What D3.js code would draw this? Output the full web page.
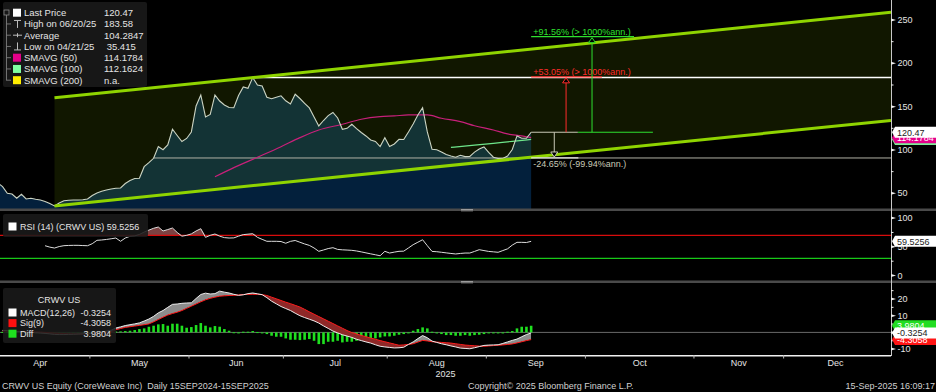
<!DOCTYPE html>
<html>
<head>
<meta charset="utf-8">
<script src="https://cdn.jsdelivr.net/npm/d3@7/dist/d3.min.js"></script>
<style>
  body { margin: 0; background: #000; overflow: hidden; }
  svg { display: block; }
  text { font-family: "Liberation Sans", Arial, sans-serif; }
</style>
</head>
<body>
<svg id="chart" width="936" height="392"></svg>
<script>
// trading-day index: 0 = 28 Mar 2025 (IPO), 116 = 15 Sep 2025
var firstDay = 3;
var closes = [61.9, 57.7, 50.0, 49.2, 44.3, 48.9, 43.5, 44.3, 43.1, 42.3,
  40.6, 38.3, 35.42, 38.8, 41.5, 42.0, 42.3, 42.3, 42.5, 43.5,
  47.5, 50.4, 52.3, 53.8, 55.0, 55.8, 56.2, 61.3, 64.8, 67.1,
  67.3, 80.7, 85.3, 90.4, 104.0, 100.3, 105.8, 123.9, 116.7, 109.8,
  113.3, 120.8, 150.8, 163.5, 138.1, 141.0, 163.5, 156.5, 151.9, 149.0,
  148.8, 162.9, 172.7, 171.2, 183.58, 175.0, 173.8, 160.8, 159.1, 160.8,
  162.5, 156.8, 153.1, 164.3, 159.4, 153.9, 148.5, 138.1, 127.7, 134.0,
  139.6, 143.3, 136.9, 123.9, 125.0, 129.7, 124.6, 120.2, 116.2, 111.5,
  109.8, 104.0, 114.2, 104.0, 106.9, 112.3, 112.1, 120.8, 130.0, 140.4,
  148.8, 120.8, 100.8, 100.2, 97.7, 94.7, 93.1, 91.7, 93.9, 92.3,
  92.5, 97.5, 101.2, 103.5, 97.3, 91.6, 90.2, 90.1, 93.1, 100.6,
  116.2, 113.5, 113.5, 120.47];

var sma50 = [[49, 69.0], [53, 79.6], [58, 91.6], [63, 103.8], [67, 114.2], [71, 123.1],
  [76, 129.7], [80, 135.5], [84, 138.5], [87, 139.3], [90, 140.4], [94, 140.4], [97, 136.6],
  [101, 132.7], [104, 128.0], [108, 123.1], [111, 118.5], [114, 116.2], [116, 114.18]];
var sma100 = [[99, 103.0], [104, 105.5], [108, 107.7], [112, 110.0], [116, 112.16]];

// trend channel (lower through the April low, upper parallel through the June high)
var channelDays = [15, 192.25];
var channelLow = [35.42, 134.1];
var channelHigh = [160.2, 258.9];

var highDay = 57, highValue = 183.58;
var supportDay = 36, supportValue = 90.77;
var lastDay = 116, lastPrice = 120.47;

var targetValues = [90.77, 184.38, 230.77];
var targetLabels = ["-24.65% (-99.94%ann.)", "+53.05% (> 1000%ann.)", "+91.56% (> 1000%ann.)"];
var targetColors = ["#c9c9b6", "#ff2b2b", "#2fe02f"];

var rsiStart = 13;
var rsi = [51.9, 49.5, 47.9, 50.5, 52.0, 52.4, 52.6, 52.6, 52.2, 51.9,
  55.4, 61.3, 61.9, 62.8, 64.0, 65.3, 59.6, 65.3, 68.3, 69.0,
  71.5, 75.7, 79.0, 82.2, 84.4, 77.5, 80.0, 82.7, 75.0, 68.5,
  70.0, 72.5, 77.5, 81.5, 66.5, 70.0, 72.3, 68.5, 66.0, 65.3,
  65.5, 68.5, 71.2, 72.0, 72.8, 66.5, 63.0, 59.6, 59.6, 59.6,
  59.2, 56.2, 59.5, 61.0, 58.0, 55.0, 52.5, 48.0, 42.2, 44.5,
  47.0, 48.5, 45.5, 44.8, 44.4, 43.9, 42.8, 41.2, 39.5, 37.8,
  36.2, 34.5, 42.2, 39.2, 40.8, 42.2, 42.5, 48.0, 53.7, 58.0,
  62.3, 52.0, 42.0, 41.5, 40.5, 39.5, 38.5, 37.6, 38.5, 39.2,
  39.2, 42.0, 45.0, 43.5, 42.0, 41.3, 40.5, 43.5, 46.5, 53.0,
  57.8, 57.8, 57.5, 59.53];

var macdStart = 4;
var macd = [1.2, 1.0, 0.8, 0.5, 0.4, 0.2, 0.0, -0.2, -0.4, -0.6, -0.9, -1.2, -1.3, -1.3, -1.2, -1.1, -1.0, -0.9, -0.8, -0.5, -0.1, 0.3, 0.8, 1.3,
  2.6, 3.3, 4.1, 4.6, 5.1, 5.7, 6.8, 8.0, 9.6, 11.7, 13.1, 15.0, 16.8, 17.0, 17.4, 17.6, 17.7,
  20.3, 22.7, 23.5, 23.0, 23.2, 24.7, 24.1, 23.6, 22.8, 22.2, 22.5, 23.2, 23.6, 23.1, 22.6,
  20.8, 18.7, 17.1, 15.5, 14.3, 13.1, 11.5, 10.0, 8.9, 7.9, 6.9, 5.6, 3.9, 2.4, 0.8,
  -0.3, -1.4, -2.2, -3.0, -4.1, -4.9, -5.7, -6.4, -7.4, -8.3, -8.7, -9.0, -9.3, -9.2, -8.9,
  -7.2, -5.7, -3.7, -1.9, -3.2, -5.2, -6.0, -6.8, -7.4, -8.1, -8.7, -9.4, -9.6, -9.8, -9.2,
  -8.5, -7.8, -7.6, -7.5, -7.4, -6.6, -5.7, -4.8, -4.0, -2.6, -1.3, -0.3254];
var signal = [0.8, 0.8, 0.8, 0.7, 0.6, 0.5, 0.4, 0.3, 0.2, 0.0, -0.2, -0.4, -0.6, -0.7, -0.8, -0.9, -0.9, -0.9, -0.9, -0.8, -0.7, -0.5, -0.3, 0.0,
  1.6, 2.3, 3.0, 3.4, 3.8, 4.2, 4.6, 5.1, 6.3, 7.7, 9.1, 10.4, 11.3, 12.1, 13.1, 14.4, 15.7,
  17.0, 18.3, 19.5, 20.4, 21.1, 21.7, 21.9, 22.1, 22.2, 22.4, 22.7, 22.8, 22.8, 22.8, 22.6,
  22.1, 21.1, 20.1, 19.1, 18.1, 17.2, 16.2, 15.2, 13.8, 12.3, 10.9, 9.5, 8.1, 6.7, 5.3,
  3.9, 2.5, 1.1, -0.1, -0.9, -1.8, -2.6, -3.4, -4.1, -4.9, -5.6, -6.3, -7.0, -7.7, -7.5,
  -7.2, -6.8, -5.8, -4.8, -5.1, -5.6, -5.8, -6.0, -6.2, -6.4, -6.8, -7.2, -7.6, -7.8, -8.0,
  -8.2, -8.3, -8.1, -7.9, -7.7, -7.5, -7.2, -6.9, -6.3, -5.6, -4.9, -4.3058];
var diff = [0.3, 0.3, 0.2, 0.2, 0.2, 0.2, 0.1, 0.1, 0.1, -0.2, -0.3, -0.4, -0.5, -0.5, -0.4, -0.3, -0.3, -0.2, -0.2, 0.2, 0.3, 0.4, 0.5, 0.5,
  0.5, 0.6, 0.8, 1.0, 1.4, 2.0, 2.4, 3.4, 4.0, 4.8, 5.0, 4.0, 5.2, 5.2, 4.0, 2.8, 3.2,
  4.4, 5.6, 4.0, 3.0, 3.8, 3.4, 2.0, 1.0, 0.1, -0.2, 0.4, 0.4, 0.8, 0.2, -0.4,
  -1.0, -2.0, -2.6, -2.6, -3.6, -4.4, -4.4, -4.6, -4.4, -4.0, -5.0, -7.0, -7.0, -5.6, -5.6,
  -5.0, -6.0, -5.6, -5.6, -5.0, -4.4, -4.0, -3.6, -3.6, -3.0, -2.4, -2.4, -2.0, -1.4, -1.0,
  -0.4, 1.0, 2.0, 3.0, 2.4, 0.4, -0.4, -1.0, -1.6, -1.6, -2.0, -2.0, -1.6, -2.0, -1.6,
  -1.4, -1.0, -0.4, -0.4, -0.4, 0.0, 0.4, 0.8, 2.4, 3.4, 3.4, 3.9804];

var monthStarts = [2, 23, 44, 64, 86, 107, 128, 151, 170, 192];
var monthNames = ["Apr", "May", "Jun", "Jul", "Aug", "Sep", "Oct", "Nov", "Dec"];

var priceTicks = [50, 100, 150, 200, 250], priceMinor = [75, 125, 175, 225];
var rsiTicks = [0, 50, 100], rsiMinor = [25, 75];
var macdTicks = [-10, 0, 10, 20], macdMinor = [-5, 5, 15, 25];

var legendNames = ["Last Price", "High on 06/20/25", "Average", "Low on 04/21/25", "SMAVG (50)", "SMAVG (100)", "SMAVG (200)"];
var legendValues = ["120.47", "183.58", "104.2847", " 35.415", "114.1784", "112.1624", "n.a."];
var legendMarks = ["#ffffff", "high", "avg", "low", "#e5008a", "#80ffa0", "#ffee00"];
var macdNames = ["MACD(12,26)", "Sig(9)", "Diff"];
var macdValues = ["-0.3254", "-4.3058", "3.9804"];
var macdColors = ["#ffffff", "#ff1010", "#1fe01f"];

// ---- layout ----
var axisX = 891;
var svg = d3.select('#chart');
svg.append('rect').attr('width', 936).attr('height', 392).attr('fill', '#000');

var x = d3.scaleLinear().domain([0, 192.25]).range([-16.3, axisX]);
var yP = d3.scaleLinear().domain([50, 250]).range([193.3, 20]);
var yR = d3.scaleLinear().domain([0, 100]).range([275.6, 218.05]);
var yM = d3.scaleLinear().domain([-10, 20]).range([349.1, 299]);

var defs = svg.append('defs');
function clipRect(id, y0, h) {
  defs.append('clipPath').attr('id', id).append('rect')
    .attr('x', 0).attr('y', y0).attr('width', axisX).attr('height', h);
}
clipRect('cMain', 0, 209);
clipRect('cRsi', 211, 70);
clipRect('cMacd', 283, 72.5);

function txt(g, x0, y0, s, opt) {
  opt = opt || {};
  return g.append('text')
    .attr('x', x0).attr('y', y0)
    .attr('fill', opt.fill || '#e4e4e4')
    .attr('font-size', opt.size || 9)
    .attr('text-anchor', opt.anchor || 'start')
    .attr('dominant-baseline', 'central')
    .style('white-space', 'pre')
    .text(s);
}

// ---- price panel ----
var price = closes.map(function(v, k) { return {i: firstDay + k, v: v}; });
var main = svg.append('g').attr('clip-path', 'url(#cMain)');

main.append('path').datum(price)
  .attr('d', d3.area().x(function(d) { return x(d.i); }).y0(209).y1(function(d) { return yP(d.v); }))
  .attr('fill', '#03203c');

var chan = channelDays.map(function(dd, k) { return {i: dd, lo: channelLow[k], hi: channelHigh[k]}; });
main.append('path').datum(chan)
  .attr('d', d3.area().x(function(d) { return x(d.i); })
    .y0(function(d) { return yP(d.lo); }).y1(function(d) { return yP(d.hi); }))
  .attr('fill', '#9ad400').attr('fill-opacity', 0.11);

main.append('line')
  .attr('x1', x(supportDay)).attr('x2', axisX)
  .attr('y1', yP(supportValue)).attr('y2', yP(supportValue))
  .attr('stroke', '#b0b0a4').attr('stroke-width', 1);

main.append('line')
  .attr('x1', x(highDay)).attr('x2', axisX)
  .attr('y1', yP(highValue)).attr('y2', yP(highValue))
  .attr('stroke', '#ffffff').attr('stroke-width', 1.5);

var smaLine = d3.line().curve(d3.curveMonotoneX)
  .x(function(d) { return x(d[0]); }).y(function(d) { return yP(d[1]); });
main.append('path').datum(sma100).attr('d', smaLine)
  .attr('fill', 'none').attr('stroke', '#6ee68a').attr('stroke-width', 1.2);
main.append('path').datum(sma50).attr('d', smaLine)
  .attr('fill', 'none').attr('stroke', '#c8207a').attr('stroke-width', 1.2);

main.append('path').datum(price)
  .attr('d', d3.line().x(function(d) { return x(d.i); }).y(function(d) { return yP(d.v); }))
  .attr('fill', 'none').attr('stroke', '#cdd5c4').attr('stroke-width', 1.1);

[channelLow, channelHigh].forEach(function(vals) {
  main.append('line')
    .attr('x1', x(channelDays[0])).attr('x2', x(channelDays[1]))
    .attr('y1', yP(vals[0])).attr('y2', yP(vals[1]))
    .attr('stroke', '#8fd400').attr('stroke-width', 3);
});

// price target projection from the last close
var lastY = yP(lastPrice), lastX = x(lastDay);
var arrowDays = [4.9, 7.4, 12.9];
var underlineDays = [10, 15, 21.8];
main.append('line').attr('x1', lastX).attr('x2', x(lastDay + 9.9))
  .attr('y1', lastY).attr('y2', lastY).attr('stroke', '#c9c9b6');
main.append('line').attr('x1', x(lastDay + 9.9)).attr('x2', x(lastDay + 25.8))
  .attr('y1', lastY).attr('y2', lastY).attr('stroke', '#2fe02f');

targetValues.forEach(function(tv, k) {
  var ty = yP(tv), ax = x(lastDay + arrowDays[k]), c = targetColors[k];
  var up = tv > lastPrice;
  var tip = up ? ty + 1 : ty - 1, base = up ? ty + 6 : ty - 6;
  main.append('line').attr('x1', lastX).attr('x2', x(lastDay + underlineDays[k]))
    .attr('y1', ty).attr('y2', ty).attr('stroke', k === 0 ? '#e8e8e0' : c).attr('stroke-width', 1.2);
  main.append('line').attr('x1', ax).attr('x2', ax).attr('y1', lastY).attr('y2', base)
    .attr('stroke', c).attr('stroke-width', 1);
  main.append('path')
    .attr('d', 'M' + ax + ',' + tip + 'L' + (ax - 3.5) + ',' + base + 'L' + (ax + 3.5) + ',' + base + 'Z')
    .attr('fill', '#000').attr('stroke', c).attr('stroke-width', 1);
  txt(main, lastX + 2, up ? ty - 5 : ty + 6, targetLabels[k], {fill: c, size: 9});
});

// ---- RSI panel ----
var rsiData = rsi.map(function(v, k) { return {i: rsiStart + k, v: v}; });
var rsiG = svg.append('g').attr('clip-path', 'url(#cRsi)');
rsiG.append('path').datum(rsiData)
  .attr('d', d3.area().x(function(d) { return x(d.i); })
    .y0(yR(70)).y1(function(d) { return yR(Math.max(d.v, 70)); }))
  .attr('fill', '#7c4242');
rsiG.append('line').attr('x1', 0).attr('x2', axisX).attr('y1', yR(70)).attr('y2', yR(70))
  .attr('stroke', '#d80c0c').attr('stroke-width', 1.2);
rsiG.append('line').attr('x1', 0).attr('x2', axisX).attr('y1', yR(30)).attr('y2', yR(30))
  .attr('stroke', '#18c818').attr('stroke-width', 1.2);
rsiG.append('path').datum(rsiData)
  .attr('d', d3.line().x(function(d) { return x(d.i); }).y(function(d) { return yR(d.v); }))
  .attr('fill', 'none').attr('stroke', '#dcdcdc').attr('stroke-width', 1);

// ---- MACD panel ----
var md = macd.map(function(v, k) { return {i: macdStart + k, m: v, s: signal[k], d: diff[k]}; });
var macdG = svg.append('g').attr('clip-path', 'url(#cMacd)');
macdG.append('line').attr('x1', 0).attr('x2', axisX).attr('y1', yM(0)).attr('y2', yM(0))
  .attr('stroke', '#6a6a6a').attr('stroke-width', 1);

macdG.selectAll('rect.bar').data(md).enter().append('rect')
  .attr('class', 'bar')
  .attr('x', function(d) { return x(d.i) - 1.3; })
  .attr('width', 2.6)
  .attr('y', function(d) { return Math.min(yM(0), yM(d.d)); })
  .attr('height', function(d) { return Math.max(1, Math.abs(yM(d.d) - yM(0))); })
  .attr('fill', '#1fe01f');

defs.append('clipPath').attr('id', 'cAbove').append('path').datum(md)
  .attr('d', d3.area().x(function(d) { return x(d.i); }).y0(283).y1(function(d) { return yM(d.s); }));
defs.append('clipPath').attr('id', 'cBelow').append('path').datum(md)
  .attr('d', d3.area().x(function(d) { return x(d.i); }).y0(function(d) { return yM(d.s); }).y1(356));
var between = d3.area().x(function(d) { return x(d.i); })
  .y0(function(d) { return yM(d.s); }).y1(function(d) { return yM(d.m); });
macdG.append('path').datum(md).attr('d', between).attr('fill', '#8c8c8c').attr('clip-path', 'url(#cAbove)');
macdG.append('path').datum(md).attr('d', between).attr('fill', '#8e2828').attr('clip-path', 'url(#cBelow)');

macdG.append('path').datum(md)
  .attr('d', d3.line().x(function(d) { return x(d.i); }).y(function(d) { return yM(d.s); }))
  .attr('fill', 'none').attr('stroke', '#ff1a1a').attr('stroke-width', 1);
macdG.append('path').datum(md)
  .attr('d', d3.line().x(function(d) { return x(d.i); }).y(function(d) { return yM(d.m); }))
  .attr('fill', 'none').attr('stroke', '#ececec').attr('stroke-width', 1);

// ---- separators, axes ----
[210, 282].forEach(function(sy) {
  svg.append('rect').attr('x', 0).attr('y', sy - 1.5).attr('width', 936).attr('height', 2.5).attr('fill', '#4a4a4a');
  svg.append('rect').attr('x', 461).attr('y', sy - 1).attr('width', 12).attr('height', 1).attr('fill', '#9a9a9a');
  svg.append('rect').attr('x', 461).attr('y', sy + 0.5).attr('width', 12).attr('height', 0.8).attr('fill', '#9a9a9a');
});

svg.append('line').attr('x1', axisX + 0.5).attr('x2', axisX + 0.5).attr('y1', 0).attr('y2', 356)
  .attr('stroke', '#c8c8c8').attr('stroke-width', 1);
svg.append('line').attr('x1', 0).attr('x2', axisX).attr('y1', 355.7).attr('y2', 355.7)
  .attr('stroke', '#f0f0f0').attr('stroke-width', 1.4);

var axisG = svg.append('g');
// the zero label of the MACD pane sits under the value boxes, so it is not written
function rightTicks(scale, major, minor, skipLabel) {
  major.forEach(function(v) {
    var ty = scale(v);
    axisG.append('path')
      .attr('d', 'M' + axisX + ',' + (ty - 1.5) + 'L' + (axisX + 5) + ',' + ty + 'L' + axisX + ',' + (ty + 1.5) + 'Z')
      .attr('fill', '#f0f0f0');
    if (v !== skipLabel) txt(axisG, axisX + 6.5, ty, String(v), {size: 9});
  });
  minor.forEach(function(v) {
    axisG.append('line').attr('x1', axisX).attr('x2', axisX + 2.5)
      .attr('y1', scale(v)).attr('y2', scale(v)).attr('stroke', '#f0f0f0');
  });
}
rightTicks(yP, priceTicks, priceMinor, null);
rightTicks(yR, rsiTicks, rsiMinor, null);
rightTicks(yM, macdTicks, macdMinor, 0);

function valueBox(yc, label, bg, fg) {
  var h = 11;
  axisG.append('path')
    .attr('d', 'M' + (axisX + 1) + ',' + yc + 'L' + (axisX + 4) + ',' + (yc - h / 2) + 'L936,' + (yc - h / 2) +
      'L936,' + (yc + h / 2) + 'L' + (axisX + 4) + ',' + (yc + h / 2) + 'Z')
    .attr('fill', bg);
  txt(axisG, axisX + 6, yc + 0.5, label, {fill: fg, size: 9});
}
valueBox(yP(112.1624), '112.1624', '#7cf09a', '#ffffff');
valueBox(yP(114.1784), '114.1784', '#e5008a', '#ffffff');
valueBox(yP(lastPrice), '120.47', '#ffffff', '#222222');
valueBox(yR(59.5256), '59.5256', '#ffffff', '#222222');
valueBox(yM(3.9804), '3.9804', '#22dd22', '#ffffff');
valueBox(yM(-4.3058), '-4.3058', '#ff1414', '#ffffff');
valueBox(yM(-0.3254), '-0.3254', '#ffffff', '#222222');

// month ticks and labels
for (var k = 1; k < monthStarts.length - 1; k++) {
  var tx = x(monthStarts[k] - 0.5);
  svg.append('line').attr('x1', tx).attr('x2', tx).attr('y1', 355).attr('y2', 358.5)
    .attr('stroke', '#b8b8b8');
}
monthNames.forEach(function(m, k) {
  var mid = (monthStarts[k] + monthStarts[k + 1]) / 2 - 0.5;
  txt(svg, x(mid), 363, m, {anchor: 'middle', size: 9});
});
txt(svg, axisX / 2, 374, '2025', {anchor: 'middle', size: 9});

// footer
txt(svg, 2, 386, 'CRWV US Equity (CoreWeave Inc)  Daily 15SEP2024-15SEP2025', {size: 9, fill: '#d0d0d0'});
txt(svg, 468, 386, 'Copyright\u00a9 2025 Bloomberg Finance L.P.', {size: 9, fill: '#d0d0d0'});
txt(svg, 935, 386, '15-Sep-2025 16:09:17', {size: 9, fill: '#d0d0d0', anchor: 'end'});

// ---- legends ----
var leg = svg.append('g');
leg.append('rect').attr('x', 3).attr('y', 2).attr('width', 144).attr('height', 85).attr('rx', 2)
  .attr('fill', '#1a1a1a').attr('fill-opacity', 0.88);
leg.append('rect').attr('x', 4).attr('y', 10).attr('width', 5).attr('height', 5)
  .attr('fill', 'none').attr('stroke', '#8a8a8a').attr('stroke-width', 0.8);
leg.append('line').attr('x1', 6.5).attr('x2', 6.5).attr('y1', 15).attr('y2', 80.5)
  .attr('stroke', '#8a8a8a').attr('stroke-width', 0.8);
legendNames.forEach(function(name, k) {
  var cy = 12.7 + k * 11.25, mark = legendMarks[k];
  if (k > 0) leg.append('line').attr('x1', 6.5).attr('x2', 11).attr('y1', cy).attr('y2', cy)
    .attr('stroke', '#8a8a8a').attr('stroke-width', 0.8);
  var mk = leg.append('g').attr('stroke', '#bdbdbd').attr('stroke-width', 1);
  if (mark === 'high') {
    mk.append('line').attr('x1', 14).attr('x2', 21).attr('y1', cy - 3.5).attr('y2', cy - 3.5);
    mk.append('line').attr('x1', 17.5).attr('x2', 17.5).attr('y1', cy - 3.5).attr('y2', cy + 4);
  } else if (mark === 'avg') {
    mk.append('line').attr('x1', 13).attr('x2', 22).attr('y1', cy).attr('y2', cy);
    mk.append('line').attr('x1', 17.5).attr('x2', 17.5).attr('y1', cy - 2).attr('y2', cy + 2);
  } else if (mark === 'low') {
    mk.append('line').attr('x1', 17.5).attr('x2', 17.5).attr('y1', cy - 4).attr('y2', cy + 3.5);
    mk.append('line').attr('x1', 14).attr('x2', 21).attr('y1', cy + 3.5).attr('y2', cy + 3.5);
  } else {
    leg.append('rect').attr('x', 13).attr('y', cy - 4).attr('width', 8).attr('height', 8).attr('fill', mark);
  }
  txt(leg, 24, cy, name, {size: 9.5});
  txt(leg, 104, cy, legendValues[k], {size: 9.5});
});

var rleg = svg.append('g');
rleg.append('rect').attr('x', 3).attr('y', 214).attr('width', 145).attr('height', 23).attr('rx', 2)
  .attr('fill', '#1a1a1a').attr('fill-opacity', 0.88);
rleg.append('rect').attr('x', 8.5).attr('y', 222.5).attr('width', 8).attr('height', 8).attr('fill', '#fff');
txt(rleg, 20, 227, 'RSI (14) (CRWV US) 59.5256', {size: 9});

var mleg = svg.append('g');
mleg.append('rect').attr('x', 3).attr('y', 288).attr('width', 113).attr('height', 55).attr('rx', 2)
  .attr('fill', '#1a1a1a').attr('fill-opacity', 0.88);
txt(mleg, 59, 299.5, 'CRWV US', {size: 9, anchor: 'middle'});
macdNames.forEach(function(name, k) {
  var cy = 312.5 + k * 10.6;
  mleg.append('rect').attr('x', 8.5).attr('y', cy - 4).attr('width', 8).attr('height', 8).attr('fill', macdColors[k]);
  txt(mleg, 20, cy, name, {size: 9});
  txt(mleg, 111, cy, macdValues[k], {size: 9, anchor: 'end'});
});
</script>
</body>
</html>
